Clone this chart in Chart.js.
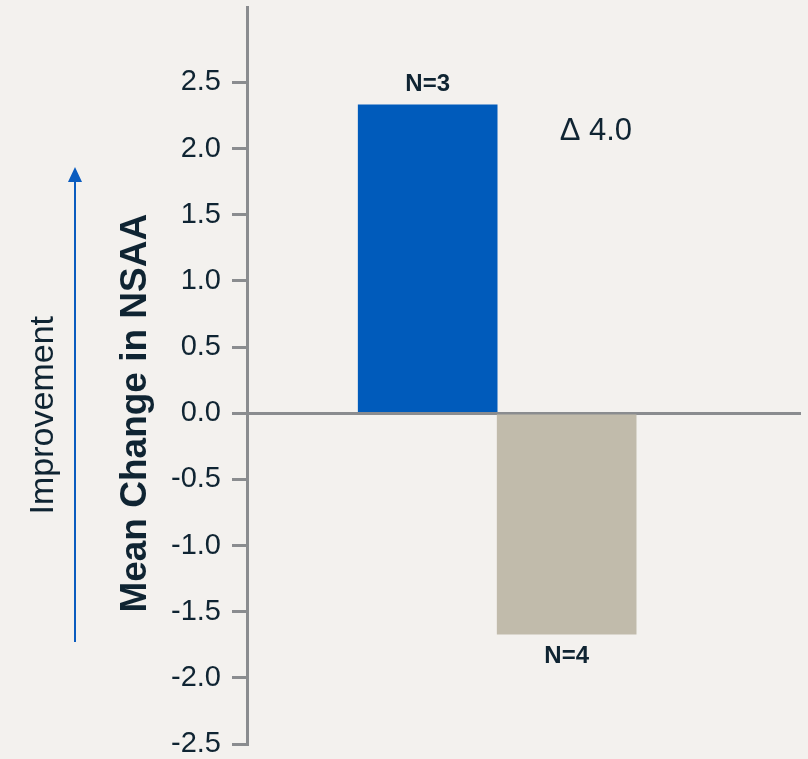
<!DOCTYPE html>
<html>
<head>
<meta charset="utf-8">
<script src="https://cdn.jsdelivr.net/npm/chart.js@4"></script>
<style>
  html, body { margin: 0; padding: 0; background: #f3f1ee; }
  canvas { display: block; }
</style>
</head>
<body>
<canvas id="grafico" width="808" height="759"></canvas>
<script>
const grupos = ["Tratado", "Controle"];
const valores = [2.33, -1.67];
const rotulosN = ["N=3", "N=4"];
const coresBarras = ["#005bbb", "#c1bbab"];
const yTicks = [-2.5, -2.0, -1.5, -1.0, -0.5, 0.0, 0.5, 1.0, 1.5, 2.0, 2.5];
const textoDelta = "\u0394 4.0";
const tituloY = "Mean Change in NSAA";
const textoMelhora = "Improvement";

const corTexto = "#0f2432";
const corEixo = "#8a8c8f";
const fonte = "'Liberation Sans', Arial, sans-serif";

const anotacoes = {
    id: "anotacoes",
    afterDatasetsDraw(chart) {
        const ctx = chart.ctx;
        const x = chart.scales.x;
        const y = chart.scales.y;
        const meta = chart.getDatasetMeta(0);

        ctx.save();
        ctx.fillStyle = corTexto;
        ctx.textAlign = "center";

        // rótulos N acima/abaixo das barras
        ctx.font = "bold 24px " + fonte;
        meta.data.forEach((barra, i) => {
            if (valores[i] >= 0) {
                ctx.textBaseline = "bottom";
                ctx.fillText(rotulosN[i], barra.x, barra.y - 9);
            } else {
                ctx.textBaseline = "top";
                ctx.fillText(rotulosN[i], barra.x, barra.y + 10);
            }
        });

        // delta
        ctx.font = "31px " + fonte;
        ctx.textBaseline = "middle";
        ctx.fillText(textoDelta, x.getPixelForValue(1.21), y.getPixelForValue(2.13));

        // título do eixo e "Improvement", girados
        const yZero = y.getPixelForValue(0);
        ctx.save();
        ctx.translate(146, yZero);
        ctx.rotate(-Math.PI / 2);
        ctx.textBaseline = "alphabetic";
        ctx.font = "bold 37px " + fonte;
        ctx.fillText(tituloY, 0, 0);
        ctx.restore();

        ctx.save();
        ctx.translate(53, yZero + 2);
        ctx.rotate(-Math.PI / 2);
        ctx.textBaseline = "alphabetic";
        ctx.font = "34px " + fonte;
        ctx.fillText(textoMelhora, 0, 0);
        ctx.restore();

        // seta
        const yPonta = y.getPixelForValue(1.86);
        const yBase = y.getPixelForValue(-1.73);
        ctx.strokeStyle = "#0a5cbf";
        ctx.fillStyle = "#0a5cbf";
        ctx.lineWidth = 2;
        ctx.beginPath();
        ctx.moveTo(75, yPonta + 10);
        ctx.lineTo(75, yBase);
        ctx.stroke();
        ctx.beginPath();
        ctx.moveTo(75, yPonta);
        ctx.lineTo(68, yPonta + 15);
        ctx.lineTo(82, yPonta + 15);
        ctx.closePath();
        ctx.fill();

        ctx.restore();
    }
};

new Chart(document.getElementById("grafico"), {
    type: "bar",
    data: {
        datasets: [{
            label: "NSAA",
            data: valores.map((v, i) => ({ x: i, y: v })),
            backgroundColor: coresBarras,
            borderWidth: 0,
            barPercentage: 1,
            categoryPercentage: 1
        }]
    },
    options: {
        responsive: false,
        animation: false,
        layout: { padding: { top: 7, bottom: 15, left: 0, right: 7 } },
        plugins: {
            legend: { display: false },
            tooltip: { enabled: false }
        },
        scales: {
            x: {
                type: "linear",
                display: false,
                offset: false,
                min: -1.3,
                max: 2.686,
                afterBuildTicks: s => { s.ticks = grupos.map((g, i) => ({ value: i })); }
            },
            y: {
                min: -2.5,
                max: 3.07,
                afterBuildTicks: s => { s.ticks = yTicks.map(v => ({ value: v })); },
                afterFit: s => {
                    s.width = 247;
                    s.paddingTop = 0;
                    s.paddingBottom = 0;
                },
                ticks: {
                    color: corTexto,
                    font: { family: fonte, size: 29, lineHeight: 1 },
                    padding: 11,
                    callback: v => v.toFixed(1)
                },
                grid: {
                    color: c => (c.tick && c.tick.value === 0) ? corEixo : "rgba(0,0,0,0)",
                    lineWidth: 3,
                    tickLength: 15,
                    tickColor: corEixo,
                    tickWidth: 3
                },
                border: { display: true, color: corEixo, width: 3 }
            }
        }
    },
    plugins: [anotacoes]
});
</script>
</body>
</html>
